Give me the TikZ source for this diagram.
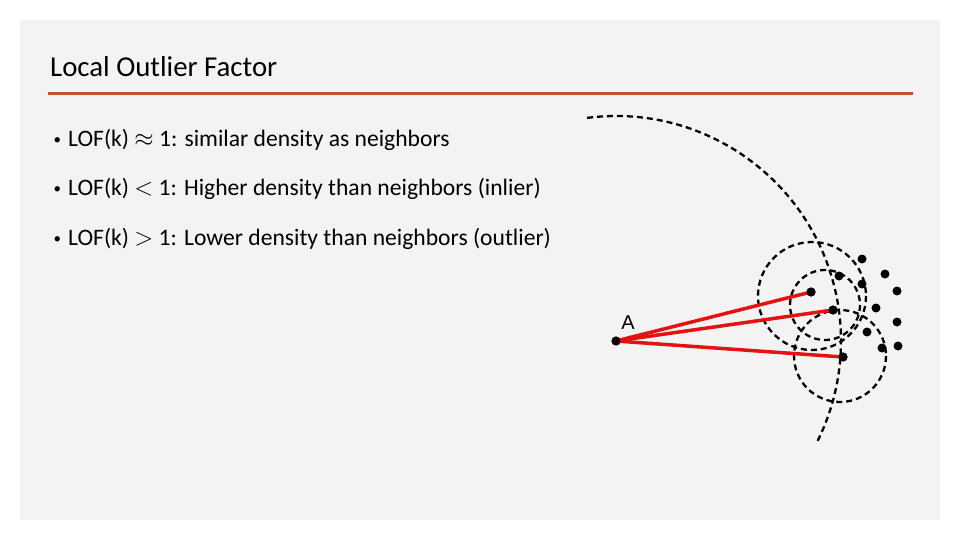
\documentclass[tikz,border=0pt]{standalone}
\usepackage{fontspec}
\setmainfont{Carlito}
\newfontfamily\labelfont{Liberation Sans}
\usepackage{tikz}
\usetikzlibrary{calc}

\definecolor{slidegray}{RGB}{243,243,243}
\definecolor{rulered}{RGB}{196,80,52}
\definecolor{linkred}{RGB}{228,18,18}

\newcommand{\itemdot}{\llap{\raisebox{2pt}{\fontsize{15}{15}\selectfont\textbullet}\hspace{7pt}}}

\begin{document}
\begin{tikzpicture}[x=1pt,y=-1pt,
	pt/.style={circle,fill=black,inner sep=0pt,minimum size=9pt},
	link/.style={linkred,line width=3.5pt},
	reach/.style={line width=2.3pt,dash pattern=on 6pt off 4pt},
	item/.style={anchor=base west,inner sep=0pt,font=\fontsize{23.6}{28}\selectfont}]
	\useasboundingbox (0,0) rectangle (960,540);
	\fill[slidegray] (20,20) rectangle (940,520);
	
	% heading
	\node[anchor=base west,inner sep=0pt,font=\fontsize{28.8}{34}\selectfont] (title) at (50,77) {Local Outlier Factor};
	\coordinate (rl) at (48,94);
	\coordinate (rr) at (913,94);
	\draw[rulered,line width=3pt] (rl) -- (rr);
	
	% bullets
	\node[item] (b1) at (68,147) {\itemdot LOF(k) $\approx$ 1: similar density as neighbors};
	\node[item] (b2) at (68,196) {\itemdot LOF(k) $<$ 1: Higher density than neighbors (inlier)};
	\node[item] (b3) at (68,245) {\itemdot LOF(k) $>$ 1: Lower density than neighbors (outlier)};
	
	% points
	\node[pt] (A) at (616,341) {};
	\node[font=\labelfont\fontsize{20}{22}\selectfont] (Alabel) at (628,323) {A};
	\node[pt] (n1) at (811,292) {};
	\node[pt] (n2) at (833,310) {};
	\node[pt] (n3) at (843,357) {};
	\foreach \x/\y [count=\i] in {862/259,839/276,862/284,885/274,897/291,876/308,897/322,867/332,882/348,898/346}
		\node[pt] (p\i) at (\x,\y) {};
	
	% reachability circles
	\draw[reach] (812,296) circle[radius=54];
	\draw[reach] (825,305) circle[radius=35];
	\draw[reach] (840,356) circle[radius=46];
	\draw[reach] ($(A)+(262.6:225)$) arc[start angle=262.6,end angle=386.5,radius=225];
	
	% distances to the neighbors
	\draw[link] (A.center) -- (n1.center);
	\draw[link] (A.center) -- (n2.center);
	\draw[link] (A.center) -- (n3.center);
	\node[pt] at (A) {};
	\node[pt] at (n1) {};
	\node[pt] at (n2) {};
	\node[pt] at (n3) {};
\end{tikzpicture}
\end{document}
